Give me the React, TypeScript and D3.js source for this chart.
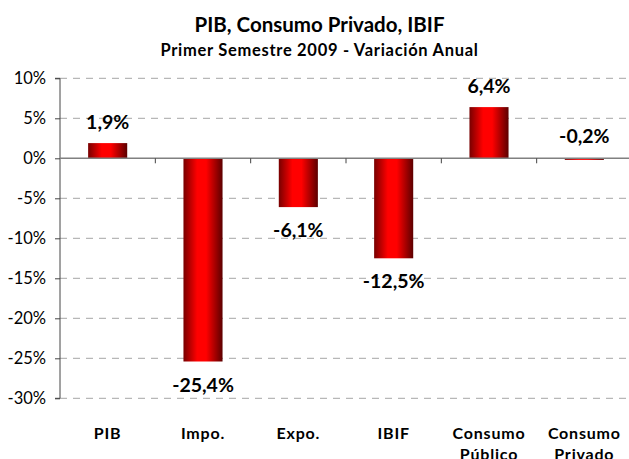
import React, { useEffect, useRef } from "react";
import * as d3 from "d3";

const categories = ["PIB", "Impo.", "Expo.", "IBIF", "Consumo Público", "Consumo Privado"];
const values = [1.9, -25.4, -6.1, -12.5, 6.4, -0.2];
const valueLabels = ["1,9%", "-25,4%", "-6,1%", "-12,5%", "6,4%", "-0,2%"];
const yTicks = [10, 5, 0, -5, -10, -15, -20, -25, -30];

const W = 629;
const H = 459;
const FONT = "Lato, 'Open Sans', sans-serif";

const App = () => {
  const ref = useRef<SVGSVGElement>(null);

  useEffect(() => {
    const svg = d3.select(ref.current);
    svg.selectAll("*").remove();

    const x = d3.scaleBand<string>().domain(categories).range([60, 632]).paddingInner(0.59).paddingOuter(0.295);
    const y = d3.scaleLinear().domain([-30, 10]).range([398.3, 78.3]);

    const defs = svg.append("defs");
    const grad = defs
      .append("linearGradient")
      .attr("id", "barGrad")
      .attr("x1", "0%")
      .attr("x2", "100%")
      .attr("y1", "0%")
      .attr("y2", "0%");
    grad.append("stop").attr("offset", "0%").attr("stop-color", "#780000");
    grad.append("stop").attr("offset", "35%").attr("stop-color", "#ff0000");
    grad.append("stop").attr("offset", "58%").attr("stop-color", "#ff0000");
    grad.append("stop").attr("offset", "100%").attr("stop-color", "#5c0000");

    // titles
    svg
      .append("text")
      .attr("x", 319.5)
      .attr("y", 31.5)
      .attr("text-anchor", "middle")
      .attr("font-family", FONT)
      .attr("font-weight", "bold")
      .attr("font-size", 20.5)
      .text("PIB, Consumo Privado, IBIF");
    svg
      .append("text")
      .attr("x", 319.5)
      .attr("y", 56)
      .attr("text-anchor", "middle")
      .attr("font-family", FONT)
      .attr("font-weight", "bold")
      .attr("font-size", 16.5)
      .attr("letter-spacing", 0.7)
      .text("Primer Semestre 2009 - Variación Anual");

    // gridlines
    svg
      .append("g")
      .selectAll("line")
      .data(yTicks.filter((t) => t !== 0))
      .enter()
      .append("line")
      .attr("x1", 60)
      .attr("x2", W)
      .attr("y1", (d) => y(d))
      .attr("y2", (d) => y(d))
      .attr("stroke", "#a6a6a6")
      .attr("stroke-width", 1)
      .attr("stroke-dasharray", "7,6");

    // y axis
    const yAxis = d3
      .axisLeft(y)
      .tickValues(yTicks)
      .tickSize(5)
      .tickPadding(9)
      .tickFormat((d) => `${d}%`);
    const ya = svg.append("g").attr("transform", "translate(60,0)").call(yAxis);
    ya.select(".domain").attr("stroke", "#444").attr("d", `M-5,${y(10)}H0V${y(-30)}H-5`);
    ya.selectAll(".tick line").attr("stroke", "#444");
    ya.selectAll(".tick text")
      .attr("font-family", FONT)
      .attr("font-size", 16.5)
      .attr("fill", "#000");

    // bars
    svg
      .append("g")
      .selectAll("rect")
      .data(values)
      .enter()
      .append("rect")
      .attr("x", (_, i) => x(categories[i])!)
      .attr("width", x.bandwidth())
      .attr("y", (d) => y(Math.max(0, d)))
      .attr("height", (d) => Math.abs(y(d) - y(0)))
      .attr("fill", "url(#barGrad)");

    // zero line with category ticks
    svg
      .append("line")
      .attr("x1", 60)
      .attr("x2", W)
      .attr("y1", y(0))
      .attr("y2", y(0))
      .attr("stroke", "#808080")
      .attr("stroke-width", 1.5);
    const step = x.step();
    svg
      .append("g")
      .selectAll("line")
      .data(categories.slice(1))
      .enter()
      .append("line")
      .attr("x1", (d) => x(d)! - (step - x.bandwidth()) / 2)
      .attr("x2", (d) => x(d)! - (step - x.bandwidth()) / 2)
      .attr("y1", y(0))
      .attr("y2", y(0) + 5)
      .attr("stroke", "#444");

    // value labels
    svg
      .append("g")
      .selectAll("text")
      .data(values)
      .enter()
      .append("text")
      .attr("x", (_, i) => x(categories[i])! + x.bandwidth() / 2)
      .attr("y", (d) => (d >= 0 ? y(d) - 14 : d > -1 ? y(0) - 15 : y(d) + 30))
      .attr("text-anchor", "middle")
      .attr("font-family", FONT)
      .attr("font-weight", "bold")
      .attr("font-size", 19.5)
      .text((_, i) => valueLabels[i]);

    // category labels
    const cat = svg
      .append("g")
      .selectAll("text")
      .data(categories)
      .enter()
      .append("text")
      .attr("x", (d) => x(d)! + x.bandwidth() / 2)
      .attr("y", 439)
      .attr("text-anchor", "middle")
      .attr("font-family", FONT)
      .attr("font-weight", "bold")
      .attr("font-size", 16)
      .attr("letter-spacing", 0.8);
    cat.each(function (d) {
      const words = d.split(" ");
      const t = d3.select(this);
      words.forEach((w, k) => {
        t.append("tspan")
          .attr("x", x(d)! + x.bandwidth() / 2)
          .attr("dy", k === 0 ? 0 : 21)
          .text(w);
      });
    });
  }, []);

  return <svg ref={ref} width={W} height={H} style={{ position: "absolute", left: 0, top: 0 }} />;
};

export default App;
